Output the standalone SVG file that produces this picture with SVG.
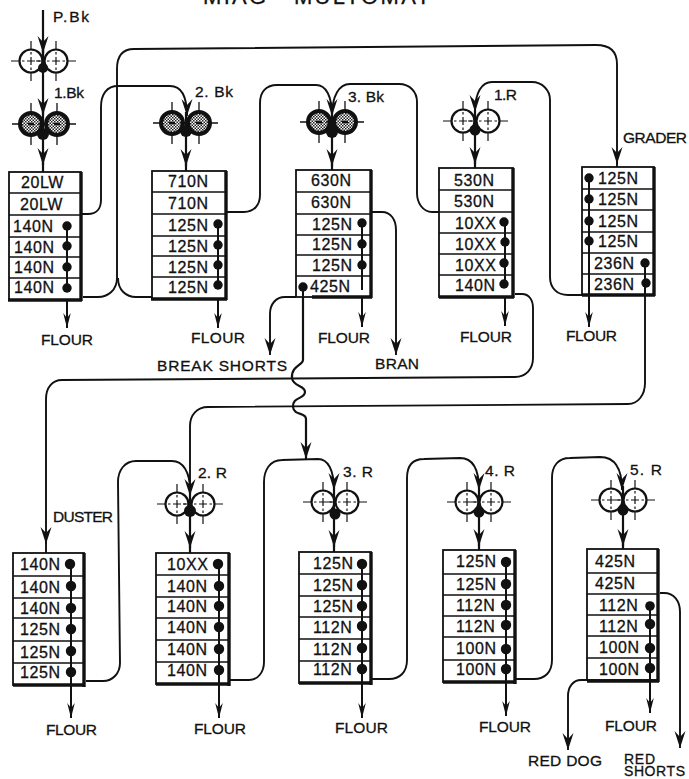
<svg xmlns="http://www.w3.org/2000/svg" width="689" height="779" viewBox="0 0 689 779">
<style>
text{font-family:"Liberation Sans",Arial,sans-serif;fill:#111;stroke:#111;stroke-width:.3}
.t{font-size:16px;letter-spacing:.6px}
.l{font-size:15.5px}
.sm{font-size:14px}
.box{fill:#fff;stroke:#111;stroke-width:1.8}
.heavy{fill:none;stroke:#111;stroke-width:3.4}
.rows{fill:none;stroke:#111;stroke-width:1.6}
.c{fill:none;stroke:#111;stroke-width:1.9}
.tk{fill:none;stroke:#111;stroke-width:2.2}
.tap{fill:none;stroke:#111;stroke-width:2}
.d{fill:#111}
</style>
<defs>
<marker id="a" markerUnits="userSpaceOnUse" markerWidth="20" markerHeight="14" viewBox="0 -7 20 14" refX="17" refY="0" orient="auto">
<path d="M17,0L0,-5.5L6,0L0,5.5Z" fill="#111"/>
</marker>
<marker id="f" markerUnits="userSpaceOnUse" markerWidth="18" markerHeight="12" viewBox="0 -6 18 12" refX="15" refY="0" orient="auto">
<path d="M15,0L0,-3.8L5,0L0,3.8Z" fill="#111"/>
</marker>
<pattern id="hatch" width="3" height="3" patternUnits="userSpaceOnUse">
<rect width="3" height="3" fill="#fff"/>
<rect width="1.5" height="1.5" fill="#222"/>
<rect x="1.5" y="1.5" width="1.5" height="1.5" fill="#222"/>
</pattern>
<g id="ro">
<circle r="11.5" fill="#fff" stroke="#111" stroke-width="2.2"/>
<path d="M0,-20V-12M0,12V20M-20,0H-12M12,0H20M-4,0H4M0,-4V4M-9,0H-6.5M6.5,0H9M0,-9V-6.5M0,6.5V9" fill="none" stroke="#111" stroke-width="1.2"/>
</g>
<g id="rs">
<path d="M0,-21V-12M0,12V21M-19,0H-12M12,0H19" fill="none" stroke="#111" stroke-width="1.3"/>
<circle r="11" fill="url(#hatch)" stroke="#111" stroke-width="4"/>
<path d="M-3,0H3" stroke="#111" stroke-width="2.4"/>
</g>
</defs>
<rect width="689" height="779" fill="#fff"/>
<text id="title" x="203" y="4" font-size="22" textLength="227" lengthAdjust="spacing" xml:space="preserve">MIAG   MULTOMAT</text>

<g id="connectors">
<path class="tk" d="M43,10V53" marker-end="url(#a)"/>
<path class="tk" d="M43,50V115" marker-end="url(#a)"/>
<path class="tk" d="M43,135V165" marker-end="url(#a)"/><path class="tk" d="M43,160V172"/>
<path class="tk" d="M186,131V166" marker-end="url(#a)"/><path class="tk" d="M186,160V171"/>
<path class="tk" d="M332,132V166" marker-end="url(#a)"/><path class="tk" d="M332,160V170"/>
<path class="tk" d="M475,130V164" marker-end="url(#a)"/><path class="tk" d="M475,160V168"/>
<path class="c" d="M81,214H88C96,214 101,209 101,200V107C101,94 107,86 118,86H170C181,86 187,96 187,116" marker-end="url(#a)"/>
<path class="c" d="M83,297H98C108,297 117,290 117,278V69C117,56 122,49 134,49L596,45C610,45 617,52 617,64V164" marker-end="url(#a)"/><path class="c" d="M617,160V167"/>
<path class="c" d="M152,297H136C126,297 118,290 118,278"/>
<path class="c" d="M226,212H244C254,212 260,205 260,195V103C260,92 266,85 277,85H316C326,85 332,96 332,116" marker-end="url(#a)"/>
<path class="c" d="M439,212H432C423,212 417,203 417,193V102C417,92 410,84 399,84H350C339,84 332,96 332,116"/>
<path class="c" d="M582,295H568C557,295 550,288 550,277V100C550,90 542,82 532,82H492C482,82 475,92 475,112" marker-end="url(#a)"/>
<path class="c" d="M372,212H382C391,212 396,220 396,230V355" marker-end="url(#a)"/>
<path class="c" d="M296,297H285C276,297 270,304 270,314V355" marker-end="url(#a)"/>
<path class="tap" d="M67,226V328" marker-end="url(#f)"/>
<path class="tap" d="M218,224V328" marker-end="url(#f)"/>
<path class="tap" d="M362,223V327" marker-end="url(#f)"/>
<path class="tap" d="M505,222V326" marker-end="url(#f)"/>
<path class="tap" d="M589,178V327" marker-end="url(#f)"/>
<path class="c" d="M515,294H522C529,294 533,300 533,308V358C533,369 526,377 515,377L62,380C52,380 46,388 46,399V544" marker-end="url(#a)"/><path class="c" d="M46,540V553"/>
<path class="c" d="M645,263V383C645,395 638,404 628,404L208,407C197,407 190,415 190,426V496" marker-end="url(#a)"/>
<path class="tk" d="M303,287V360C303,365 291,366 292,378C293,387 305,385 305,392C305,399 292,397 293,407C294,416 306,412 306,419V459" marker-end="url(#a)"/>
<path class="c" d="M86,681H103C113,681 120,673 120,663L118,482C118,470 125,461 136,461H172C183,461 190,472 190,490"/>
<path class="c" d="M229,680H249C258,680 264,672 264,662V482C264,470 270,460 282,460L318,459C328,459 334,470 334,490" marker-end="url(#a)"/>
<path class="c" d="M372,679H389C400,679 407,672 407,660V478C407,466 412,459 424,459L460,458C472,458 479,468 479,490" marker-end="url(#a)"/>
<path class="c" d="M516,679H534C545,679 552,672 552,660V478C552,466 558,458 570,458L600,457C614,457 622,468 622,490" marker-end="url(#a)"/>
<path class="tk" d="M190,511V548" marker-end="url(#a)"/><path class="tk" d="M190,540V553"/>
<path class="tk" d="M334,514V547" marker-end="url(#a)"/><path class="tk" d="M334,540V552"/>
<path class="tk" d="M479,512V546" marker-end="url(#a)"/><path class="tk" d="M479,540V550"/>
<path class="tk" d="M623,510V546" marker-end="url(#a)"/><path class="tk" d="M623,540V549"/>
<path class="tap" d="M71,564V718" marker-end="url(#f)"/>
<path class="tap" d="M219,564V718" marker-end="url(#f)"/>
<path class="tap" d="M362,564V718" marker-end="url(#f)"/>
<path class="tap" d="M506,562V716" marker-end="url(#f)"/>
<path class="tap" d="M650,606V713" marker-end="url(#f)"/>
<path class="c" d="M660,593H664C674,593 680,601 680,612V748" marker-end="url(#a)"/>
<path class="c" d="M587,680H581C573,680 568,687 568,696V750" marker-end="url(#a)"/>
</g>

<g id="roll-pbk"><use href="#ro" x="31" y="61"/><use href="#ro" x="56" y="61"/><circle class="d" cx="43" cy="68" r="5"/><path class="tk" d="M43,40V66"/></g>
<g id="roll-1bk"><use href="#rs" x="31" y="124"/><use href="#rs" x="57" y="124"/><circle class="d" cx="43" cy="134" r="6"/><path class="tk" d="M43,110V132"/></g>
<g id="roll-2bk"><use href="#rs" x="172" y="123"/><use href="#rs" x="199" y="123"/><circle class="d" cx="186" cy="131" r="6"/><path class="tk" d="M186,112V130"/></g>
<g id="roll-3bk"><use href="#rs" x="319" y="122"/><use href="#rs" x="345" y="122"/><circle class="d" cx="332" cy="132" r="6"/><path class="tk" d="M332,112V130"/></g>
<g id="roll-1r"><use href="#ro" x="463" y="121"/><use href="#ro" x="488" y="121"/><circle class="d" cx="475" cy="130" r="5.5"/><path class="tk" d="M475,110V128"/></g>
<g id="roll-2r"><use href="#ro" x="177" y="504"/><use href="#ro" x="203" y="504"/><circle class="d" cx="190" cy="511" r="6"/><path class="tk" d="M190,492V509"/></g>
<g id="roll-3r"><use href="#ro" x="323" y="502"/><use href="#ro" x="347" y="502"/><circle class="d" cx="335" cy="514" r="5.5"/><path class="tk" d="M334,486V512"/></g>
<g id="roll-4r"><use href="#ro" x="467" y="502"/><use href="#ro" x="491" y="502"/><circle class="d" cx="479" cy="512" r="5.5"/><path class="tk" d="M479,486V510"/></g>
<g id="roll-5r"><use href="#ro" x="611" y="500"/><use href="#ro" x="635" y="500"/><circle class="d" cx="623" cy="510" r="5.5"/><path class="tk" d="M623,486V508"/></g>

<g id="box-1bk">
<rect class="box" x="9" y="172" width="72" height="128"/><path class="rows" d="M9,193H81M9,215H81M9,237H81M9,257H81M9,278H81"/><path class="heavy" d="M81,172V301M8,300H82"/>
<g class="t"><text x="21" y="188">20LW</text><text x="20" y="210">20LW</text><text x="13" y="232">140N</text><text x="14" y="253">140N</text><text x="14" y="273">140N</text><text x="14" y="293">140N</text></g>
<path class="tap" d="M67,226V290"/><circle class="d" cx="67" cy="226" r="4.7"/><circle class="d" cx="67" cy="246" r="4.7"/><circle class="d" cx="67" cy="267" r="4.7"/><circle class="d" cx="67" cy="288" r="4.7"/>
</g>
<g id="box-2bk">
<rect class="box" x="152" y="171" width="74" height="128"/><path class="rows" d="M152,192H226M152,214H226M152,236H226M152,256H226M152,277H226"/><path class="heavy" d="M226,171V300M151,299H227"/>
<g class="t"><text x="168" y="187">710N</text><text x="168" y="209">710N</text><text x="168" y="231">125N</text><text x="168" y="252">125N</text><text x="168" y="273">125N</text><text x="168" y="293">125N</text></g>
<path class="tap" d="M218,224V288"/><circle class="d" cx="218" cy="224" r="4.7"/><circle class="d" cx="218" cy="245" r="4.7"/><circle class="d" cx="218" cy="265" r="4.7"/><circle class="d" cx="218" cy="285" r="4.7"/>
</g>
<g id="box-3bk">
<rect class="box" x="296" y="170" width="75" height="127"/><path class="rows" d="M296,192H371M296,214H371M296,235H371M296,255H371M296,276H371"/><path class="heavy" d="M371,170V298M312,297H372"/>
<g class="t"><text x="311" y="186">630N</text><text x="311" y="208">630N</text><text x="312" y="230">125N</text><text x="312" y="250">125N</text><text x="312" y="271">125N</text><text x="310" y="292">425N</text></g>
<path class="tap" d="M362,223V290M303,287V297"/><circle class="d" cx="362" cy="223" r="4.7"/><circle class="d" cx="362" cy="244" r="4.7"/><circle class="d" cx="362" cy="265" r="4.7"/><circle class="d" cx="303" cy="287" r="4.7"/>
</g>
<g id="box-1r">
<rect class="box" x="439" y="168" width="74" height="129"/><path class="rows" d="M439,190H513M439,212H513M439,233H513M439,254H513M439,275H513"/><path class="heavy" d="M513,168V298M439,297H514"/>
<g class="t"><text x="454" y="186">530N</text><text x="454" y="207">530N</text><text x="455" y="229">10XX</text><text x="455" y="250">10XX</text><text x="455" y="271">10XX</text><text x="455" y="291">140N</text></g>
<path class="tap" d="M505,222V288"/><circle class="d" cx="504" cy="222" r="4.7"/><circle class="d" cx="505" cy="242" r="4.7"/><circle class="d" cx="504" cy="263" r="4.7"/><circle class="d" cx="504" cy="284" r="4.7"/>
</g>
<g id="box-grader">
<rect class="box" x="582" y="167" width="72" height="128"/><path class="rows" d="M582,189H654M582,210H654M582,232H654M582,253H654M582,274H654"/><path class="heavy" d="M654,167V296M582,295H655"/>
<g class="t"><text x="598" y="184">125N</text><text x="598" y="205">125N</text><text x="598" y="227">125N</text><text x="598" y="247">125N</text><text x="594" y="269">236N</text><text x="594" y="290">236N</text></g>
<path class="tap" d="M589,178V295M645,263V295"/><circle class="d" cx="589" cy="178" r="4.7"/><circle class="d" cx="589" cy="199" r="4.7"/><circle class="d" cx="589" cy="221" r="4.7"/><circle class="d" cx="589" cy="241" r="4.7"/><circle class="d" cx="645" cy="263" r="4.7"/><circle class="d" cx="646" cy="283" r="4.7"/>
</g>
<g id="box-duster">
<rect class="box" x="13" y="553" width="71" height="132"/><path class="rows" d="M13,576H84M13,598H84M13,618H84M13,641H84M13,663H84"/><path class="heavy" d="M84,553V687M13,685H85"/>
<g class="t"><text x="20" y="570">140N</text><text x="20" y="593">140N</text><text x="20" y="614">140N</text><text x="20" y="635">125N</text><text x="20" y="658">125N</text><text x="20" y="678">125N</text></g>
<path class="tap" d="M71,564V685"/><circle class="d" cx="70" cy="564" r="5.2"/><circle class="d" cx="71" cy="586" r="5.2"/><circle class="d" cx="71" cy="608" r="5.2"/><circle class="d" cx="71" cy="629" r="5.2"/><circle class="d" cx="71" cy="651" r="5.2"/><circle class="d" cx="71" cy="672" r="5.2"/>
</g>
<g id="box-2r">
<rect class="box" x="156" y="553" width="73" height="131"/><path class="rows" d="M156,575H229M156,597H229M156,618H229M156,640H229M156,662H229"/><path class="heavy" d="M229,553V686M156,684H230"/>
<g class="t"><text x="167" y="570">10XX</text><text x="167" y="592">140N</text><text x="167" y="612">140N</text><text x="167" y="633">140N</text><text x="167" y="655">140N</text><text x="167" y="676">140N</text></g>
<path class="tap" d="M219,564V684"/><circle class="d" cx="218" cy="564" r="5.2"/><circle class="d" cx="219" cy="586" r="5.2"/><circle class="d" cx="219" cy="606" r="5.2"/><circle class="d" cx="219" cy="627" r="5.2"/><circle class="d" cx="219" cy="649" r="5.2"/><circle class="d" cx="219" cy="670" r="5.2"/>
</g>
<g id="box-3r">
<rect class="box" x="299" y="552" width="72" height="131"/><path class="rows" d="M299,574H371M299,596H371M299,617H371M299,639H371M299,661H371"/><path class="heavy" d="M371,552V685M299,683H372"/>
<g class="t"><text x="313" y="569">125N</text><text x="313" y="591">125N</text><text x="313" y="612">125N</text><text x="313" y="633">112N</text><text x="313" y="655">112N</text><text x="313" y="675">112N</text></g>
<path class="tap" d="M362,564V683"/><circle class="d" cx="362" cy="564" r="5.2"/><circle class="d" cx="362" cy="585" r="5.2"/><circle class="d" cx="362" cy="606" r="5.2"/><circle class="d" cx="362" cy="626" r="5.2"/><circle class="d" cx="362" cy="648" r="5.2"/><circle class="d" cx="362" cy="669" r="5.2"/>
</g>
<g id="box-4r">
<rect class="box" x="443" y="550" width="72" height="132"/><path class="rows" d="M443,574H515M443,595H515M443,616H515M443,637H515M443,660H515"/><path class="heavy" d="M515,550V684M443,682H516"/>
<g class="t"><text x="456" y="567">125N</text><text x="456" y="590">125N</text><text x="456" y="611">112N</text><text x="456" y="632">112N</text><text x="456" y="654">100N</text><text x="456" y="675">100N</text></g>
<path class="tap" d="M506,562V682"/><circle class="d" cx="506" cy="562" r="5.2"/><circle class="d" cx="506" cy="584" r="5.2"/><circle class="d" cx="506" cy="605" r="5.2"/><circle class="d" cx="506" cy="625" r="5.2"/><circle class="d" cx="506" cy="649" r="5.2"/><circle class="d" cx="506" cy="669" r="5.2"/>
</g>
<g id="box-5r">
<rect class="box" x="587" y="549" width="71" height="131"/><path class="rows" d="M587,573H658M587,594H658M587,615H658M587,636H658M587,658H658"/><path class="heavy" d="M658,549V682M587,681H659"/>
<g class="t"><text x="595" y="567">425N</text><text x="595" y="589">425N</text><text x="599" y="611">112N</text><text x="599" y="632">112N</text><text x="599" y="653">100N</text><text x="599" y="675">100N</text></g>
<path class="tap" d="M650,606V681"/><circle class="d" cx="650" cy="606" r="4.8"/><circle class="d" cx="650" cy="624" r="5.2"/><circle class="d" cx="650" cy="648" r="5.2"/><circle class="d" cx="650" cy="668" r="5.2"/>
</g>

<g id="labels" class="l">
<text x="53" y="22" textLength="36">P.Bk</text>
<text x="54" y="98" textLength="30">1.Bk</text>
<text x="195" y="97" textLength="38">2. Bk</text>
<text x="348" y="102" textLength="36">3. Bk</text>
<text x="494" y="100" textLength="23">1.R</text>
<text x="623" y="143" textLength="64">GRADER</text>
<text x="198" y="478" textLength="29">2. R</text>
<text x="343" y="477" textLength="30">3. R</text>
<text x="485" y="476" textLength="30">4. R</text>
<text x="630" y="475" textLength="32">5. R</text>
<text x="53" y="522" textLength="60">DUSTER</text>
<text x="157" y="371" textLength="130">BREAK SHORTS</text>
<text x="375" y="369" textLength="44">BRAN</text>
<text x="41" y="345" textLength="52">FLOUR</text>
<text x="191" y="343" textLength="54">FLOUR</text>
<text x="318" y="343" textLength="52">FLOUR</text>
<text x="460" y="342" textLength="52">FLOUR</text>
<text x="566" y="341" textLength="51">FLOUR</text>
<text x="46" y="735" textLength="51">FLOUR</text>
<text x="194" y="734" textLength="52">FLOUR</text>
<text x="335" y="733" textLength="53">FLOUR</text>
<text x="479" y="732" textLength="52">FLOUR</text>
<text x="605" y="731" textLength="52">FLOUR</text>
<text x="528" y="766" textLength="74">RED DOG</text>
<text class="sm" x="624" y="764" textLength="31">RED</text>
<text class="sm" x="624" y="776" textLength="61">SHORTS</text>
</g>
</svg>
